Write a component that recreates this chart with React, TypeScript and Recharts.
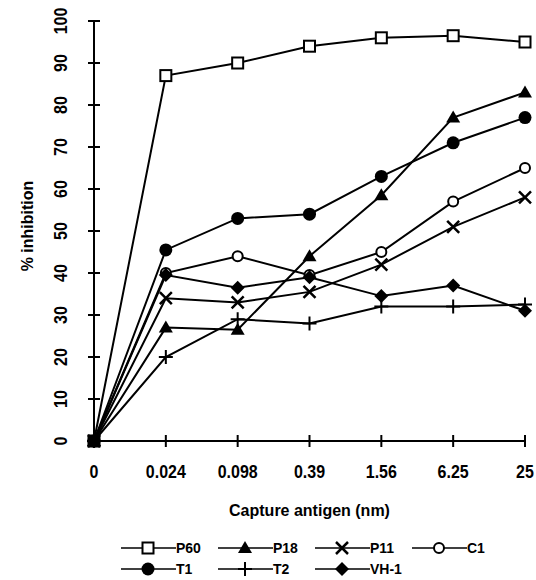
import React from "react";
import { LineChart, Line, XAxis, YAxis } from "recharts";

const categories = ["0", "0.024", "0.098", "0.39", "1.56", "6.25", "25"];
const p60 = [0, 87, 90, 94, 96, 96.5, 95];
const p18 = [0, 27, 26.5, 44, 58.5, 77, 83];
const p11 = [0, 34, 33, 35.5, 42, 51, 58];
const c1 = [0, 40, 44, 39.5, 45, 57, 65];
const t1 = [0, 45.5, 53, 54, 63, 71, 77];
const t2 = [0, 20, 29, 28, 32, 32, 32.5];
const vh1 = [0, 39.5, 36.5, 39, 34.5, 37, 31];
const yTicks = [0, 10, 20, 30, 40, 50, 60, 70, 80, 90, 100];

const series = [
  { key: "p60", name: "P60", values: p60, marker: "square" },
  { key: "p18", name: "P18", values: p18, marker: "triangle" },
  { key: "p11", name: "P11", values: p11, marker: "x" },
  { key: "c1", name: "C1", values: c1, marker: "circle" },
  { key: "t1", name: "T1", values: t1, marker: "dot" },
  { key: "t2", name: "T2", values: t2, marker: "plus" },
  { key: "vh1", name: "VH-1", values: vh1, marker: "diamond" },
];

const data = categories.map((c, i) => {
  const row: Record<string, string | number> = { x: c };
  series.forEach((s) => {
    row[s.key] = s.values[i];
  });
  return row;
});

const FONT = '"Liberation Sans", Arial, Helvetica, sans-serif';

function Marker({ type, cx, cy }: { type: string; cx: number; cy: number }) {
  switch (type) {
    case "square":
      return (
        <rect x={cx - 5.5} y={cy - 5.5} width={11} height={11} fill="#fff" stroke="#000" strokeWidth={2} />
      );
    case "triangle":
      return <polygon points={`${cx},${cy - 7} ${cx + 7},${cy + 5} ${cx - 7},${cy + 5}`} fill="#000" />;
    case "x":
      return (
        <path
          d={`M${cx - 6},${cy - 6}L${cx + 6},${cy + 6}M${cx + 6},${cy - 6}L${cx - 6},${cy + 6}`}
          stroke="#000"
          strokeWidth={2.5}
          fill="none"
        />
      );
    case "circle":
      return <circle cx={cx} cy={cy} r={5} fill="#fff" stroke="#000" strokeWidth={2} />;
    case "dot":
      return <circle cx={cx} cy={cy} r={6.5} fill="#000" />;
    case "plus":
      return (
        <path
          d={`M${cx - 7},${cy}H${cx + 7}M${cx},${cy - 7}V${cy + 7}`}
          stroke="#000"
          strokeWidth={2}
          fill="none"
        />
      );
    case "diamond":
      return (
        <polygon points={`${cx},${cy - 7} ${cx + 7},${cy} ${cx},${cy + 7} ${cx - 7},${cy}`} fill="#000" />
      );
    default:
      return null;
  }
}

function YTick(props: any) {
  const { x, y, payload } = props;
  return (
    <g>
      <line x1={x - 6} x2={x + 6} y1={y} y2={y} stroke="#000" strokeWidth={2} />
      <text
        transform={`translate(${x - 27},${y}) rotate(-90) scale(1,1.18)`}
        textAnchor="middle"
        fontSize={16}
        fontWeight="bold"
        fontFamily={FONT}
        fill="#000"
      >
        {payload.value}
      </text>
    </g>
  );
}

function XTick(props: any) {
  const { x, y, payload } = props;
  return (
    <g>
      <line x1={x} x2={x} y1={y - 6} y2={y + 6} stroke="#000" strokeWidth={2} />
      <text
        transform={`translate(${x},${y + 37}) scale(1,1.18)`}
        textAnchor="middle"
        fontSize={16}
        fontWeight="bold"
        fontFamily={FONT}
        fill="#000"
      >
        {payload.value}
      </text>
    </g>
  );
}

function YTitle(props: any) {
  const vb = props.viewBox || { x: 0, y: 13, width: 86, height: 420 };
  const cx = vb.x + 25;
  const cy = vb.y + vb.height / 2 - 5;
  return (
    <text
      transform={`translate(${cx},${cy}) rotate(-90)`}
      textAnchor="middle"
      fontSize={16}
      fontWeight="bold"
      fontFamily={FONT}
      fill="#000"
    >
      % inhibition
    </text>
  );
}

function XTitle(props: any) {
  const vb = props.viewBox || { x: 86, y: 433, width: 431, height: 80 };
  return (
    <text
      x={vb.x + vb.width / 2}
      y={vb.y + 75}
      textAnchor="middle"
      fontSize={16}
      fontWeight="bold"
      fontFamily={FONT}
      fill="#000"
    >
      Capture antigen (nm)
    </text>
  );
}

const legendRows = [
  ["p60", "p18", "p11", "c1"],
  ["t1", "t2", "vh1"],
];
const legendCols = [121, 218, 315, 412];

function ChartLegend() {
  return (
    <>
      {legendRows.map((row, r) =>
        row.map((k, c) => {
          const s = series.find((d) => d.key === k)!;
          return (
            <div
              key={k}
              style={{
                position: "absolute",
                left: legendCols[c],
                top: 540 + r * 21,
                height: 16,
                display: "flex",
                alignItems: "center",
                fontFamily: FONT,
                fontSize: 14,
                fontWeight: "bold",
                lineHeight: "16px",
              }}
            >
              <svg width={55} height={16} style={{ display: "block" }}>
                <line x1={0} x2={55} y1={8} y2={8} stroke="#000" strokeWidth={1.5} />
                <Marker type={s.marker} cx={27} cy={8} />
              </svg>
              <span>{s.name}</span>
            </div>
          );
        })
      )}
    </>
  );
}

export default function App() {
  return (
    <div
      style={{
        position: "absolute",
        left: 0,
        top: 0,
        width: 536,
        height: 580,
        overflow: "hidden",
        background: "#fff",
      }}
    >
      <div style={{ position: "absolute", left: 8, top: 8 }}>
        <LineChart width={528} height={513} data={data} margin={{ top: 13, right: 11, left: 0, bottom: 0 }}>
          <XAxis
            dataKey="x"
            type="category"
            scale="point"
            padding={{ left: 0, right: 0 }}
            height={80}
            interval={0}
            tickSize={0}
            tickMargin={0}
            tickLine={false}
            axisLine={{ stroke: "#000", strokeWidth: 2 }}
            tick={XTick}
            label={XTitle}
          />
          <YAxis
            type="number"
            domain={[0, 100]}
            ticks={yTicks}
            interval={0}
            width={86}
            tickSize={0}
            tickMargin={0}
            tickLine={false}
            axisLine={{ stroke: "#000", strokeWidth: 2 }}
            tick={YTick}
            label={YTitle}
          />
          {series.map((s) => (
            <Line
              key={s.key}
              dataKey={s.key}
              name={s.name}
              type="linear"
              stroke="#000"
              strokeWidth={2}
              isAnimationActive={false}
              dot={(p: any) => <Marker key={`${s.key}-${p.index}`} type={s.marker} cx={p.cx} cy={p.cy} />}
              activeDot={false}
            />
          ))}
        </LineChart>
      </div>
      <ChartLegend />
    </div>
  );
}
